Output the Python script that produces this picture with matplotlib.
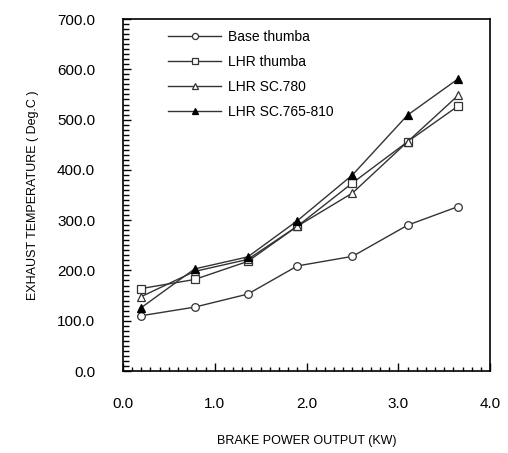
import matplotlib
matplotlib.use("Agg")
import matplotlib.pyplot as plt
from matplotlib.ticker import MultipleLocator, FormatStrFormatter

# brake power output (kW)
power = [0.2, 0.78, 1.36, 1.9, 2.5, 3.1, 3.65]

# exhaust temperature (deg C)
base_thumba = [110, 127, 153, 209, 228, 290, 327]
lhr_thumba = [164, 182, 218, 288, 374, 456, 527]
lhr_sc780 = [148, 198, 222, 288, 354, 456, 548]
lhr_sc765_810 = [126, 203, 227, 299, 390, 509, 581]

labels = ["Base thumba", "LHR thumba", "LHR SC.780", "LHR SC.765-810"]

plt.rcParams['font.family'] = ['Liberation Sans', 'DejaVu Sans']

fig = plt.figure(figsize=(5.08, 4.53), dpi=100)
ax = fig.add_axes([0.242, 0.181, 0.723, 0.777])

col = '#333333'
ax.plot(power, base_thumba, color=col, lw=1, marker='o', ms=5.5,
        mfc='white', mec=col, mew=0.9, label=labels[0])
ax.plot(power, lhr_thumba, color=col, lw=1, marker='s', ms=6,
        mfc='white', mec=col, mew=0.9, label=labels[1])
ax.plot(power, lhr_sc780, color=col, lw=1, marker='^', ms=6,
        mfc='white', mec=col, mew=0.9, label=labels[2])
ax.plot(power, lhr_sc765_810, color=col, lw=1, marker='^', ms=6,
        mfc='black', mec='black', mew=0.9, label=labels[3])

ax.set_xlim(0, 4.0)
ax.set_ylim(0, 700)
ax.xaxis.set_major_locator(MultipleLocator(1.0))
ax.xaxis.set_minor_locator(MultipleLocator(0.1))
ax.yaxis.set_major_locator(MultipleLocator(100))
ax.yaxis.set_minor_locator(MultipleLocator(10))
ax.xaxis.set_major_formatter(FormatStrFormatter('%.1f'))
ax.yaxis.set_major_formatter(FormatStrFormatter('%.1f'))

ax.tick_params(axis='x', which='major', direction='in', length=6, width=1,
               pad=19, labelsize=11, top=False)
ax.tick_params(axis='x', which='minor', direction='in', length=3, width=1, top=False)
ax.tick_params(axis='y', which='major', direction='in', length=6, width=1,
               pad=20, labelsize=11, right=False)
ax.tick_params(axis='y', which='minor', direction='in', length=4, width=1, right=False)

for s in ax.spines.values():
    s.set_linewidth(1.2)
    s.set_color('black')

ax.set_xlabel('BRAKE POWER OUTPUT (KW)', fontsize=9, labelpad=17)
ax.set_ylabel('EXHAUST TEMPERATURE ( Deg.C )', fontsize=9, labelpad=13)

ax.legend(loc='upper left', bbox_to_anchor=(0.09, 1.005), frameon=False,
          fontsize=10, handlelength=3.8, labelspacing=0.8, handletextpad=0.5,
          markerscale=0.8)

fig.savefig('out.png', dpi=100)
